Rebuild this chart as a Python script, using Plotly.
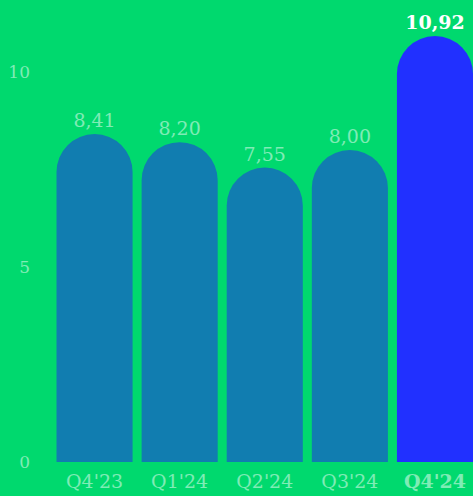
import plotly.graph_objects as go

categories = ["Q4'23", "Q1'24", "Q2'24", "Q3'24", "Q4'24"]
values = [8.41, 8.20, 7.55, 8.00, 10.92]
y_ticks = [0, 5, 10]

BG = "#00D96E"
BAR = "#117DB0"
HIGHLIGHT = "#2130FF"
FAINT = "rgba(255,255,255,0.5)"
FONT = "DejaVu Serif"

n = len(categories)
colors = [BAR] * (n - 1) + [HIGHLIGHT]
text_colors = [FAINT] * (n - 1) + ["white"]
labels = [f"{v:.2f}".replace(".", ",") for v in values]
labels = labels[:-1] + [f"<b>{labels[-1]}</b>"]
ticktext = categories[:-1] + [f"<b><span style='color:white'>{categories[-1]}</span></b>"]

fig = go.Figure(go.Bar(
    x=list(range(n)),
    y=values,
    marker=dict(color=colors, cornerradius="50%", line=dict(width=0)),
    text=labels,
    textposition="outside",
    textfont=dict(family=FONT, size=19, color=text_colors),
    cliponaxis=False,
    hoverinfo="skip",
))

fig.update_layout(
    width=473, height=496,
    paper_bgcolor=BG, plot_bgcolor=BG,
    margin=dict(l=52, r=0, t=20, b=34),
    bargap=0.106,
    showlegend=False,
    separators=",.",
    xaxis=dict(
        range=[-0.5, 4.447],
        tickmode="array", tickvals=list(range(n)), ticktext=ticktext,
        showgrid=False, zeroline=False, showline=False, ticks="",
        tickfont=dict(family=FONT, size=19, color=FAINT),
        ticklabelstandoff=6,
    ),
    yaxis=dict(
        range=[0, 442 / 39],
        tickmode="array", tickvals=y_ticks,
        showgrid=False, zeroline=False, showline=False, ticks="",
        tickfont=dict(family=FONT, size=17, color=FAINT),
        ticklabelstandoff=21,
    ),
)

fig.write_html(
    "out.html",
    config={"displayModeBar": False},
    post_script="document.body.style.margin='0';document.body.style.background='%s';" % BG,
)
